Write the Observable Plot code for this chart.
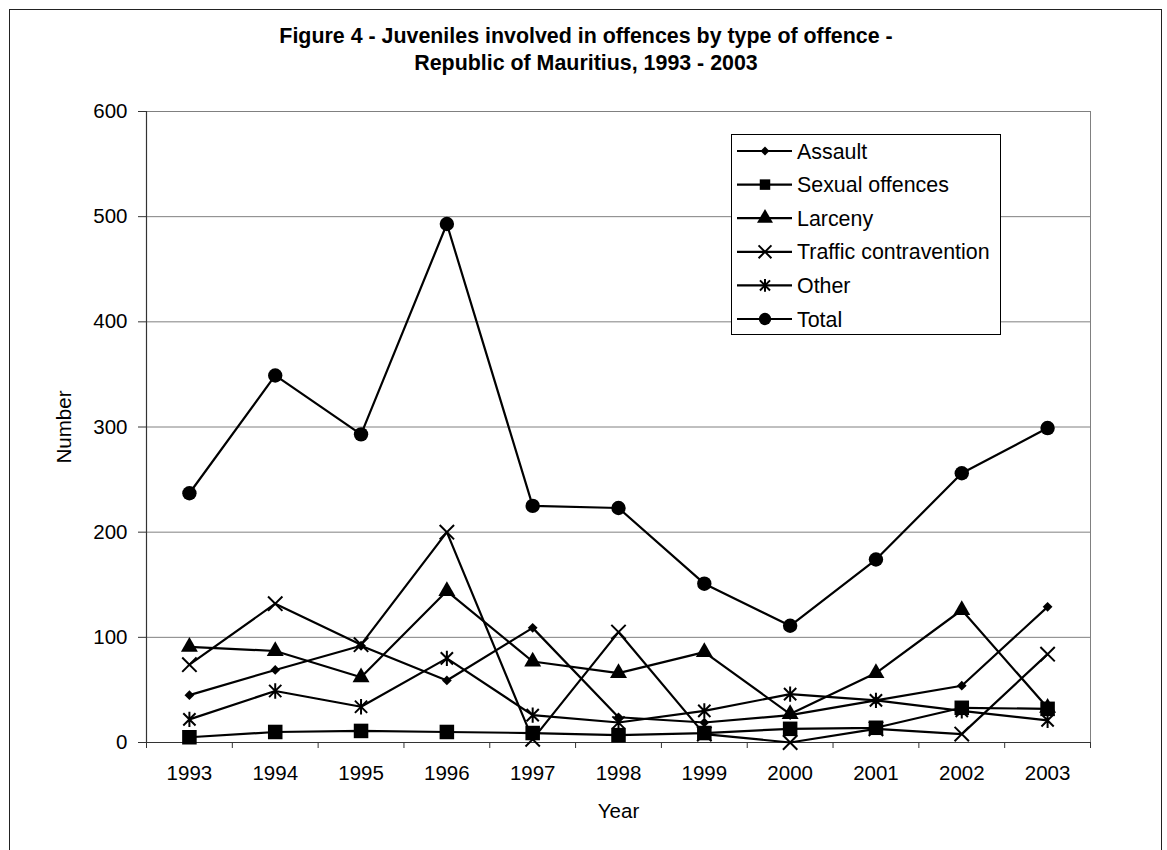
<!DOCTYPE html>
<html>
<head>
<meta charset="utf-8">
<script src="https://cdn.jsdelivr.net/npm/d3@7"></script>
<script src="https://cdn.jsdelivr.net/npm/@observablehq/plot@0.6"></script>
<style>
  html, body { margin: 0; padding: 0; background: #fff; }
  #wrap { position: relative; width: 1167px; height: 850px; overflow: hidden; background: #fff;
          font-family: "Liberation Sans", Arial, sans-serif; color: #000; }
  #outer { position: absolute; left: 9px; top: 9px; width: 1153px; height: 900px; border: 1px solid #222; box-sizing: border-box; }
  #title { position: absolute; left: 0; top: 23px; width: 1172px; text-align: center; font-weight: bold;
           font-size: 21.4px; line-height: 27px; }
  #chart { position: absolute; left: 0; top: 0; }
  #legend { position: absolute; left: 731px; top: 134px; }
</style>
</head>
<body>
<div id="wrap">
  <div id="outer"></div>
  <div id="chart"></div>
  <div id="title">Figure 4 - Juveniles involved in offences by type of offence -<br>Republic of Mauritius, 1993 - 2003</div>
  <div id="legend"></div>
</div>
<script>
// ---- data ----
const years = [1993, 1994, 1995, 1996, 1997, 1998, 1999, 2000, 2001, 2002, 2003];
const assault = [45, 69, 92, 59, 109, 24, 19, 26, 40, 54, 129];
const sexualOffences = [5, 10, 11, 10, 9, 7, 9, 13, 14, 33, 32];
const larceny = [91, 87, 62, 144, 77, 66, 86, 27, 66, 126, 33];
const trafficContravention = [74, 132, 93, 200, 3, 105, 8, 0, 13, 8, 84];
const other = [22, 49, 34, 80, 26, 19, 30, 46, 40, 30, 21];
const total = [237, 349, 293, 493, 225, 223, 151, 111, 174, 256, 299];
const seriesNames = ["Assault", "Sexual offences", "Larceny", "Traffic contravention", "Other", "Total"];
const yTicks = [0, 100, 200, 300, 400, 500, 600];

const seriesValues = [assault, sexualOffences, larceny, trafficContravention, other, total];

// Excel-style asterisk: an X plus a vertical bar
const excelAsterisk = {
  draw(context, size) {
    const r = Math.sqrt(size) * 0.6;
    const d = r * 0.8;
    context.moveTo(-d, -d); context.lineTo(d, d);
    context.moveTo(d, -d); context.lineTo(-d, d);
    context.moveTo(0, -r); context.lineTo(0, r);
  }
};

const markerStyle = {
  "Assault": {symbol: d3.symbolDiamond2, r: 4.4, filled: true, legendSize: 50},
  "Sexual offences": {symbol: d3.symbolSquare, r: 8.2, filled: true, legendSize: 110},
  "Larceny": {symbol: d3.symbolTriangle, r: 6.3, filled: true, legendSize: 110},
  "Traffic contravention": {symbol: d3.symbolTimes, r: 6.6, filled: false, legendSize: 110},
  "Other": {symbol: excelAsterisk, r: 7.2, filled: false, legendSize: 110},
  "Total": {symbol: d3.symbolCircle, r: 7.2, filled: true, legendSize: 120}
};

const rows = seriesNames.flatMap((name, i) =>
  years.map((year, j) => ({series: name, year, value: seriesValues[i][j]})));

const boundaries = [...years.map(y => y - 0.5), years[years.length - 1] + 0.5];

const dotMarks = seriesNames.map(name => {
  const s = markerStyle[name];
  const data = rows.filter(d => d.series === name);
  return s.filled
    ? Plot.dot(data, {x: "year", y: "value", symbol: s.symbol, r: s.r, fill: "#000", stroke: "none"})
    : Plot.dot(data, {x: "year", y: "value", symbol: s.symbol, r: s.r, fill: "none", stroke: "#000", strokeWidth: 2});
});

const chart = Plot.plot({
  width: 1167,
  height: 850,
  marginLeft: 146,
  marginRight: 77,
  marginTop: 111,
  marginBottom: 108,
  style: {fontFamily: "'Liberation Sans', Arial, sans-serif", fontSize: "20.5px", color: "#000", background: "transparent"},
  x: {domain: [boundaries[0], boundaries[boundaries.length - 1]]},
  y: {domain: [0, 600]},
  marks: [
    Plot.gridY({ticks: yTicks, stroke: "#808080", strokeOpacity: 1, strokeWidth: 1}),
    Plot.frame({stroke: "#808080"}),
    Plot.axisY({ticks: yTicks, tickSize: 8, tickPadding: 11, tickFormat: d => String(d),
                label: "Number", labelAnchor: "center", labelOffset: 90, labelArrow: "none",
                stroke: "#333"}),
    Plot.axisX({ticks: years, tickSize: 0, tickPadding: 23, tickFormat: d => String(d),
                label: "Year", labelAnchor: "center", labelOffset: 75, labelArrow: "none"}),
    Plot.axisX({ticks: boundaries, tickSize: 6, tickFormat: () => "", label: null, stroke: "#333"}),
    Plot.ruleY([0], {stroke: "#333", strokeWidth: 1.2}),
    Plot.ruleX([boundaries[0]], {stroke: "#333", strokeWidth: 1.2}),
    Plot.line(rows, {x: "year", y: "value", z: "series", stroke: "#000", strokeWidth: 2.2}),
    ...dotMarks
  ]
});
document.getElementById("chart").appendChild(chart);

// ---- legend ----
const lw = 270, lh = 201, rowGap = 33.6, rowTop = 17;
const leg = d3.select("#legend").append("svg").attr("width", lw).attr("height", lh)
  .style("font-family", "'Liberation Sans', Arial, sans-serif").style("font-size", "21.4px");
leg.append("rect").attr("x", 0.5).attr("y", 0.5).attr("width", lw - 1).attr("height", lh - 1)
  .attr("fill", "#fff").attr("stroke", "#000");
seriesNames.forEach((name, i) => {
  const s = markerStyle[name];
  const g = leg.append("g").attr("transform", `translate(0,${rowTop + i * rowGap})`);
  g.append("line").attr("x1", 6).attr("x2", 61).attr("y1", 0).attr("y2", 0)
    .attr("stroke", "#000").attr("stroke-width", 2.2);
  const p = g.append("path").attr("transform", "translate(34,0)")
    .attr("d", d3.symbol(s.symbol, s.legendSize)());
  if (s.filled) p.attr("fill", "#000");
  else p.attr("fill", "none").attr("stroke", "#000").attr("stroke-width", 2);
  g.append("text").attr("x", 66).attr("y", 0).attr("dy", "0.35em").text(name);
});
</script>
</body>
</html>
